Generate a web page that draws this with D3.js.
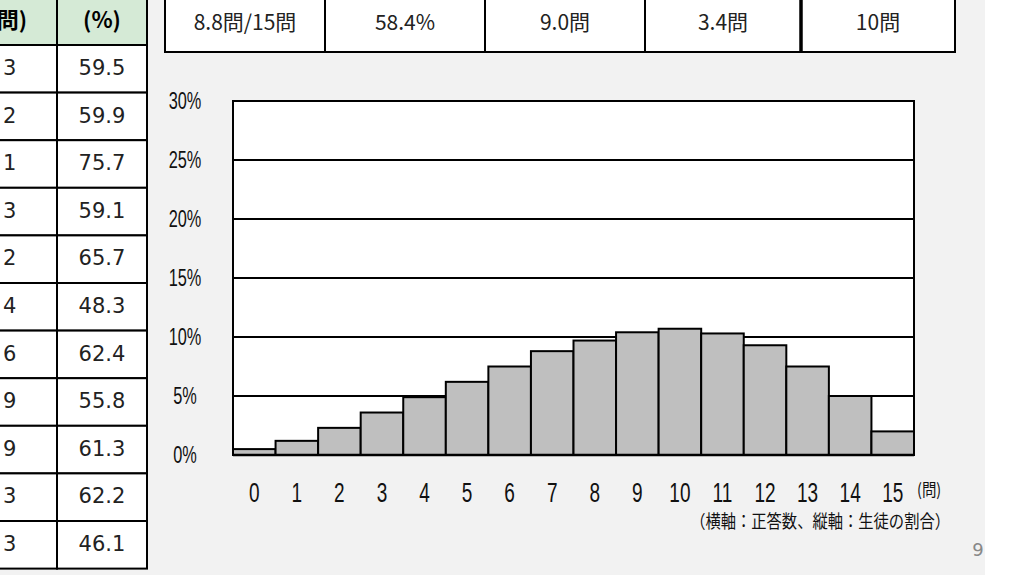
<!DOCTYPE html>
<html><head><meta charset="utf-8">
<script src="https://cdn.jsdelivr.net/npm/d3@7"></script>
<style>body{margin:0;background:#fff;}svg{display:block;}</style>
</head><body>
<svg id="c" width="1017" height="581"></svg>
<script>
// données
const scores = d3.range(0, 16);
const shares = [0.5, 1.2, 2.3, 3.6, 4.9, 6.2, 7.5, 8.8, 9.7, 10.4, 10.7, 10.3, 9.3, 7.5, 5.0, 2.0];
const yTicks = [0, 5, 10, 15, 20, 25, 30];
const summary = ["8.8問/15問", "58.4%", "9.0問", "3.4問", "10問"];
const leftCol = ["3", "2", "1", "3", "2", "4", "6", "9", "9", "3", "3"];
const rightCol = ["59.5", "59.9", "75.7", "59.1", "65.7", "48.3", "62.4", "55.8", "61.3", "62.2", "46.1"];

const svg = d3.select("#c");
const jp = "'Noto Sans CJK JP', sans-serif";
const sans = "'DejaVu Sans', sans-serif";
const narrow = "'Liberation Sans', sans-serif";

svg.append("rect").attr("x", 0).attr("y", 0).attr("width", 985).attr("height", 575).attr("fill", "#f2f2f2");

// tableau de gauche
const lt = svg.append("g");
lt.append("rect").attr("x", -5).attr("y", -5).attr("width", 152).attr("height", 50).attr("fill", "#d5ead6").attr("stroke", "#000").attr("stroke-width", 2);
lt.append("line").attr("x1", 57).attr("x2", 57).attr("y1", 0).attr("y2", 45).attr("stroke", "#000").attr("stroke-width", 2);
lt.append("text").attr("x", 12).attr("y", 28).attr("text-anchor", "middle").attr("font-family", jp).attr("font-weight", "bold").attr("font-size", 22).text("問)");
lt.append("text").attr("x", 102).attr("y", 28).attr("text-anchor", "middle").attr("font-family", jp).attr("font-weight", "bold").attr("font-size", 22).text("(%)");
const rowH = 47.6;
rightCol.forEach((v, i) => {
  const y = 45 + i * rowH;
  lt.append("rect").attr("x", -5).attr("y", y).attr("width", 62).attr("height", rowH).attr("fill", "#fff").attr("stroke", "#000").attr("stroke-width", 2);
  lt.append("rect").attr("x", 57).attr("y", y).attr("width", 90).attr("height", rowH).attr("fill", "#fff").attr("stroke", "#000").attr("stroke-width", 2);
  lt.append("text").attr("x", 3).attr("y", y + 30).attr("font-family", sans).attr("font-size", 21).attr("fill", "#222").text(leftCol[i]);
  lt.append("text").attr("x", 102).attr("y", y + 30).attr("text-anchor", "middle").attr("font-family", sans).attr("font-size", 21).attr("fill", "#222").text(v);
});

// tableau du haut
const colX = [165, 325, 485, 645, 801, 955];
summary.forEach((s, i) => {
  svg.append("rect").attr("x", colX[i]).attr("y", -5).attr("width", colX[i + 1] - colX[i]).attr("height", 57).attr("fill", "#fff").attr("stroke", "#000").attr("stroke-width", 2);
  svg.append("text").attr("x", (colX[i] + colX[i + 1]) / 2).attr("y", 30).attr("text-anchor", "middle").attr("font-family", jp).attr("font-size", 21).attr("fill", "#222").text(s);
});
svg.append("line").attr("x1", 801).attr("x2", 801).attr("y1", 0).attr("y2", 52).attr("stroke", "#000").attr("stroke-width", 3.5);

// histogramme
const x = d3.scaleBand().domain(scores).range([233, 914]).padding(0);
const y = d3.scaleLinear().domain([0, 30]).range([455, 101]);

svg.append("rect").attr("x", 233).attr("y", 101).attr("width", 681).attr("height", 354).attr("fill", "#fff").attr("stroke", "#000").attr("stroke-width", 2);
svg.append("g").selectAll("line").data(yTicks.slice(1, -1)).join("line")
  .attr("x1", 233).attr("x2", 914).attr("y1", d => y(d)).attr("y2", d => y(d)).attr("stroke", "#000").attr("stroke-width", 2);

svg.append("g").selectAll("rect").data(shares).join("rect")
  .attr("x", (d, i) => x(scores[i])).attr("y", d => y(d))
  .attr("width", x.bandwidth()).attr("height", d => y(0) - y(d))
  .attr("fill", "#bfbfbf").attr("stroke", "#000").attr("stroke-width", 2);

svg.append("line").attr("x1", 233).attr("x2", 914).attr("y1", 455).attr("y2", 455).attr("stroke", "#000").attr("stroke-width", 2.5);

// textes étroits : compression horizontale
svg.append("g").selectAll("text").data(yTicks).join("text")
  .attr("transform", d => `translate(185,${y(d) + 8}) scale(0.68,1)`).attr("text-anchor", "middle")
  .attr("font-family", narrow).attr("font-size", 24).attr("fill", "#111").text(d => d + "%");

svg.append("g").selectAll("text").data(scores).join("text")
  .attr("transform", d => `translate(${x(d) + x.bandwidth() / 2},502) scale(0.68,1)`).attr("text-anchor", "middle")
  .attr("font-family", narrow).attr("font-size", 28).attr("fill", "#111").text(d => d);

svg.append("text").attr("transform", "translate(917,496) scale(0.85,1)").attr("font-family", jp).attr("font-size", 17).attr("fill", "#111").text("(問)");
svg.append("text").attr("transform", "translate(950,528) scale(0.85,1)").attr("text-anchor", "end").attr("font-family", jp).attr("font-size", 18).attr("fill", "#111").text("（横軸：正答数、縦軸：生徒の割合）");
svg.append("text").attr("x", 978).attr("y", 556).attr("text-anchor", "middle").attr("font-family", sans).attr("font-size", 18).attr("fill", "#888").text("9");
</script>
</body></html>
